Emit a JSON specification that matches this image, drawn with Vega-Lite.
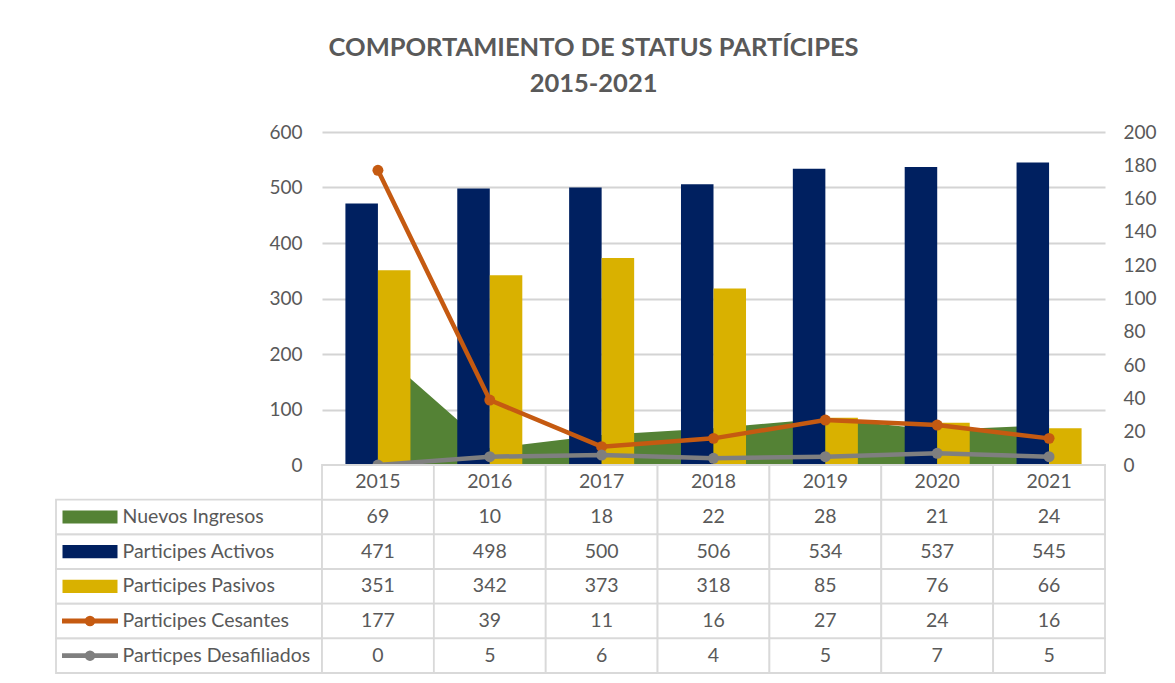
{
  "$schema": "https://vega.github.io/schema/vega-lite/v6.json",
  "padding": {"left": 55, "top": 35, "right": 10, "bottom": 5},
  "background": "white",
  "title": {
    "text": ["COMPORTAMIENTO DE STATUS PARTÍCIPES", "2015-2021"],
    "anchor": "middle",
    "font": "Lato",
    "fontSize": 25.5,
    "fontWeight": "bold",
    "color": "#595959",
    "lineHeight": 36,
    "offset": 26,
    "dx": -12
  },
  "config": {
    "view": {"stroke": null},
    "font": "Lato"
  },
  "datasets": {
    "t": [
      {"year": "2015", "series": "Nuevos Ingresos", "value": 69},
      {"year": "2016", "series": "Nuevos Ingresos", "value": 10},
      {"year": "2017", "series": "Nuevos Ingresos", "value": 18},
      {"year": "2018", "series": "Nuevos Ingresos", "value": 22},
      {"year": "2019", "series": "Nuevos Ingresos", "value": 28},
      {"year": "2020", "series": "Nuevos Ingresos", "value": 21},
      {"year": "2021", "series": "Nuevos Ingresos", "value": 24},
      {"year": "2015", "series": "Participes Activos", "value": 471},
      {"year": "2016", "series": "Participes Activos", "value": 498},
      {"year": "2017", "series": "Participes Activos", "value": 500},
      {"year": "2018", "series": "Participes Activos", "value": 506},
      {"year": "2019", "series": "Participes Activos", "value": 534},
      {"year": "2020", "series": "Participes Activos", "value": 537},
      {"year": "2021", "series": "Participes Activos", "value": 545},
      {"year": "2015", "series": "Participes Pasivos", "value": 351},
      {"year": "2016", "series": "Participes Pasivos", "value": 342},
      {"year": "2017", "series": "Participes Pasivos", "value": 373},
      {"year": "2018", "series": "Participes Pasivos", "value": 318},
      {"year": "2019", "series": "Participes Pasivos", "value": 85},
      {"year": "2020", "series": "Participes Pasivos", "value": 76},
      {"year": "2021", "series": "Participes Pasivos", "value": 66},
      {"year": "2015", "series": "Participes Cesantes", "value": 177},
      {"year": "2016", "series": "Participes Cesantes", "value": 39},
      {"year": "2017", "series": "Participes Cesantes", "value": 11},
      {"year": "2018", "series": "Participes Cesantes", "value": 16},
      {"year": "2019", "series": "Participes Cesantes", "value": 27},
      {"year": "2020", "series": "Participes Cesantes", "value": 24},
      {"year": "2021", "series": "Participes Cesantes", "value": 16},
      {"year": "2015", "series": "Particpes Desafiliados", "value": 0},
      {"year": "2016", "series": "Particpes Desafiliados", "value": 5},
      {"year": "2017", "series": "Particpes Desafiliados", "value": 6},
      {"year": "2018", "series": "Particpes Desafiliados", "value": 4},
      {"year": "2019", "series": "Particpes Desafiliados", "value": 5},
      {"year": "2020", "series": "Particpes Desafiliados", "value": 7},
      {"year": "2021", "series": "Particpes Desafiliados", "value": 5}
    ],
    "s": [
      {"series": "Nuevos Ingresos"},
      {"series": "Participes Activos"},
      {"series": "Participes Pasivos"},
      {"series": "Participes Cesantes"},
      {"series": "Particpes Desafiliados"}
    ]
  },
  "columns": 2,
  "spacing": 0,
  "bounds": "flush",
  "align": "each",
  "concat": [
    {
      "width": 266,
      "height": 333,
      "data": {"values": []},
      "mark": "point"
    },
    {
      "width": 783,
      "height": 333,
      "data": {"name": "t"},
      "layer": [
        {
          "transform": [{"filter": "datum.series == 'Nuevos Ingresos'"}],
          "mark": {"type": "area", "color": "#548235", "opacity": 1},
          "encoding": {
            "x": {"field": "year", "type": "ordinal", "scale": {"type": "band", "paddingInner": 0, "paddingOuter": 0}, "axis": null},
            "y": {
              "field": "value", "type": "quantitative",
              "scale": {"domain": [0, 200]},
              "axis": {"orient": "right", "values": [0, 20, 40, 60, 80, 100, 120, 140, 160, 180, 200], "grid": false, "domain": false, "ticks": false, "labelPadding": 18, "labelFontSize": 19, "labelColor": "#595959", "title": null}
            }
          }
        },
        {
          "transform": [{"filter": "datum.series == 'Participes Activos' || datum.series == 'Participes Pasivos'"}],
          "mark": {"type": "bar"},
          "encoding": {
            "x": {"field": "year", "type": "ordinal", "scale": {"type": "band", "paddingInner": 0, "paddingOuter": 0}, "axis": null},
            "xOffset": {"field": "series", "type": "nominal", "scale": {"domain": ["Participes Activos", "Participes Pasivos"], "paddingInner": 0, "paddingOuter": 0.72}},
            "y": {
              "field": "value", "type": "quantitative",
              "scale": {"domain": [0, 600]},
              "axis": {"orient": "left", "values": [0, 100, 200, 300, 400, 500, 600], "grid": true, "gridColor": "#D4D4D4", "gridWidth": 2, "gridOpacity": 1, "domain": false, "ticks": false, "labelPadding": 20, "labelFontSize": 19, "labelColor": "#595959", "title": null}
            },
            "color": {
              "field": "series", "type": "nominal",
              "scale": {"domain": ["Nuevos Ingresos", "Participes Activos", "Participes Pasivos", "Participes Cesantes", "Particpes Desafiliados"], "range": ["#548235", "#002060", "#D9B100", "#C55A11", "#7F7F7F"]},
              "legend": null
            }
          }
        },
        {
          "transform": [{"filter": "datum.series == 'Participes Cesantes' || datum.series == 'Particpes Desafiliados'"}],
          "mark": {"type": "line", "strokeWidth": 4.5, "strokeCap": "round", "point": {"filled": true, "size": 120, "opacity": 1}},
          "encoding": {
            "x": {"field": "year", "type": "ordinal", "scale": {"type": "band", "paddingInner": 0, "paddingOuter": 0}, "axis": null},
            "y": {"field": "value", "type": "quantitative", "scale": {"domain": [0, 200]}, "axis": null},
            "color": {
              "field": "series", "type": "nominal",
              "scale": {"domain": ["Nuevos Ingresos", "Participes Activos", "Participes Pasivos", "Participes Cesantes", "Particpes Desafiliados"], "range": ["#548235", "#002060", "#D9B100", "#C55A11", "#7F7F7F"]},
              "legend": null
            }
          }
        }
      ],
      "resolve": {"scale": {"y": "independent"}}
    },
    {
      "width": 266,
      "height": 208,
      "data": {"name": "s"},
      "encoding": {
        "y": {
          "field": "series", "type": "nominal",
          "scale": {"type": "band", "domain": ["hdr", "Nuevos Ingresos", "Participes Activos", "Participes Pasivos", "Participes Cesantes", "Particpes Desafiliados"], "paddingInner": 0, "paddingOuter": 0},
          "axis": {"orient": "left", "labelAlign": "left", "labelPadding": -66, "domain": false, "ticks": false, "grid": false, "title": null, "labelFontSize": 19.5, "labelColor": "#595959", "labelLimit": 300, "zindex": 2, "labelExpr": "datum.value == 'hdr' ? '' : datum.label"}
        }
      },
      "layer": [
        {
          "mark": {"type": "rect", "fill": "white", "fillOpacity": 0, "stroke": "#D9D9D9", "strokeWidth": 1.8}
        },
        {
          "transform": [{"filter": "datum.series == 'Nuevos Ingresos' || datum.series == 'Participes Activos' || datum.series == 'Participes Pasivos'"}],
          "mark": {"type": "point", "shape": "M-1,-0.24H1V0.24H-1Z", "size": 3025, "filled": true, "opacity": 1, "strokeWidth": 0, "xOffset": -99},
          "encoding": {
            "color": {
              "field": "series", "type": "nominal",
              "scale": {"domain": ["Nuevos Ingresos", "Participes Activos", "Participes Pasivos", "Participes Cesantes", "Particpes Desafiliados"], "range": ["#548235", "#002060", "#D9B100", "#C55A11", "#7F7F7F"]},
              "legend": null
            }
          }
        },
        {
          "transform": [{"filter": "datum.series == 'Participes Cesantes' || datum.series == 'Particpes Desafiliados'"}],
          "mark": {"type": "point", "shape": "M-1,-0.085H1V0.085H-1Z", "size": 3136, "filled": true, "opacity": 1, "strokeWidth": 0, "xOffset": -99},
          "encoding": {
            "color": {
              "field": "series", "type": "nominal",
              "scale": {"domain": ["Nuevos Ingresos", "Participes Activos", "Participes Pasivos", "Participes Cesantes", "Particpes Desafiliados"], "range": ["#548235", "#002060", "#D9B100", "#C55A11", "#7F7F7F"]},
              "legend": null
            }
          }
        },
        {
          "transform": [{"filter": "datum.series == 'Participes Cesantes' || datum.series == 'Particpes Desafiliados'"}],
          "mark": {"type": "point", "shape": "circle", "size": 110, "filled": true, "opacity": 1, "strokeWidth": 0, "xOffset": -99},
          "encoding": {
            "color": {
              "field": "series", "type": "nominal",
              "scale": {"domain": ["Nuevos Ingresos", "Participes Activos", "Participes Pasivos", "Participes Cesantes", "Particpes Desafiliados"], "range": ["#548235", "#002060", "#D9B100", "#C55A11", "#7F7F7F"]},
              "legend": null
            }
          }
        }
      ]
    },
    {
      "width": 783,
      "height": 208,
      "data": {"name": "t"},
      "encoding": {
        "x": {"field": "year", "type": "ordinal", "scale": {"type": "band", "paddingInner": 0, "paddingOuter": 0}, "axis": null}
      },
      "layer": [
        {
          "mark": {"type": "rect", "fill": "white", "stroke": "#D9D9D9", "strokeWidth": 1.8},
          "encoding": {
            "y": {"field": "series", "type": "nominal", "scale": {"type": "band", "domain": ["hdr", "Nuevos Ingresos", "Participes Activos", "Participes Pasivos", "Participes Cesantes", "Particpes Desafiliados"], "paddingInner": 0, "paddingOuter": 0}, "axis": null}
          }
        },
        {
          "transform": [{"filter": "datum.series == 'Nuevos Ingresos'"}],
          "mark": {"type": "rect", "fill": "white", "stroke": "#D9D9D9", "strokeWidth": 1.8},
          "encoding": {"y": {"datum": "hdr", "type": "nominal"}}
        },
        {
          "mark": {"type": "text", "fontSize": 19.5, "color": "#595959"},
          "encoding": {
            "y": {"field": "series", "type": "nominal"},
            "text": {"field": "value", "type": "quantitative"}
          }
        },
        {
          "transform": [{"filter": "datum.series == 'Nuevos Ingresos'"}],
          "mark": {"type": "text", "fontSize": 19.5, "color": "#595959"},
          "encoding": {
            "y": {"datum": "hdr", "type": "nominal"},
            "text": {"field": "year", "type": "nominal"}
          }
        }
      ]
    }
  ]
}
